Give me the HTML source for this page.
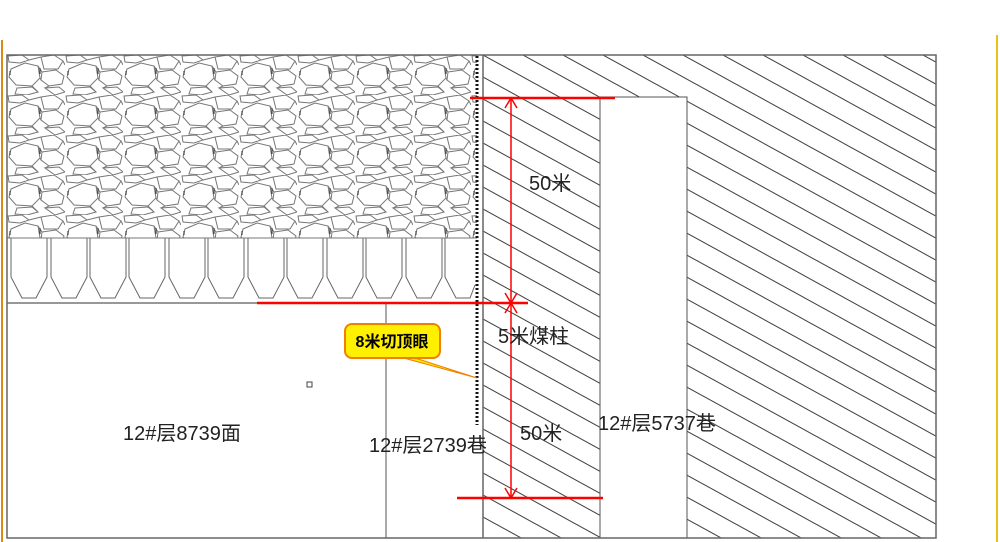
<!DOCTYPE html>
<html><head><meta charset="utf-8"><style>
html,body{margin:0;padding:0;background:#fff;width:1000px;height:542px;overflow:hidden}
text{font-family:"Liberation Sans","Noto Sans CJK SC",sans-serif}
</style></head><body>
<svg width="1000" height="542" viewBox="0 0 1000 542" xmlns="http://www.w3.org/2000/svg">
<defs>
<pattern id="rock" x="7" y="55" width="58" height="40" patternUnits="userSpaceOnUse">
<rect width="58" height="40" fill="#fff"/>
<g fill="none" stroke="#777" stroke-width="1">
<polygon points="4,14 18,8 31,11 33,23 25,31 9,30 2,22"/>
<polygon points="34,2 47,0 56,6 51,14 37,14"/>
<polygon points="1,1 15,0 22,5 13,8 2,7"/>
<polygon points="35,17 49,15 57,21 55,29 42,31 34,25"/>
<polygon points="10,33 25,32 31,37 20,40 8,39"/>
<polygon points="38,33 52,32 58,37 48,40"/>
<line x1="31" y1="11" x2="35" y2="17"/><line x1="33" y1="23" x2="34" y2="25"/>
<line x1="22" y1="5" x2="34" y2="2"/><line x1="56" y1="6" x2="58" y2="10"/>
<line x1="25" y1="31" x2="31" y2="37"/><line x1="42" y1="31" x2="38" y2="33"/>
</g>
<g stroke="#222" stroke-width="1"><line x1="33" y1="13" x2="33" y2="19"/><line x1="3" y1="16" x2="3" y2="20"/></g>
</pattern>
<pattern id="hatch" x="483" y="55" width="40" height="22" patternUnits="userSpaceOnUse">
<line x1="0" y1="0" x2="40" y2="22" stroke="#444" stroke-width="1"/>
<line x1="-40" y1="0" x2="0" y2="22" stroke="#444" stroke-width="1"/>
<line x1="0" y1="-22" x2="40" y2="0" stroke="#444" stroke-width="1"/>
<line x1="0" y1="22" x2="40" y2="44" stroke="#444" stroke-width="1"/>
</pattern>
</defs>
<line x1="2" y1="40" x2="2" y2="542" stroke="#d98a1a" stroke-width="2"/>
<line x1="997" y1="35" x2="997" y2="542" stroke="#e8c21a" stroke-width="2"/>
<rect x="7" y="55" width="470" height="183" fill="url(#rock)"/>
<rect x="483" y="55" width="453" height="483" fill="url(#hatch)"/>
<rect x="600" y="97" width="87" height="441" fill="#fff" stroke="#555" stroke-width="1"/>
<g fill="none" stroke="#666" stroke-width="1">
<path d="M11,238 V277 L22,298 H36 L47,277 V238"/>
<path d="M51,238 V277 L62,298 H76 L87,277 V238"/>
<path d="M90,238 V277 L101,298 H115 L126,277 V238"/>
<path d="M129,238 V277 L140,298 H154 L165,277 V238"/>
<path d="M169,238 V277 L180,298 H194 L205,277 V238"/>
<path d="M208,238 V277 L219,298 H233 L244,277 V238"/>
<path d="M248,238 V277 L259,298 H273 L284,277 V238"/>
<path d="M287,238 V277 L298,298 H312 L323,277 V238"/>
<path d="M327,238 V277 L338,298 H352 L363,277 V238"/>
<path d="M366,238 V277 L377,298 H391 L402,277 V238"/>
<path d="M406,238 V277 L417,298 H431 L442,277 V238"/>
<path d="M445,238 V277 L456,298 H470 L475,285"/>
</g>
<line x1="7" y1="238" x2="477" y2="238" stroke="#777"/>
<line x1="7" y1="303" x2="477" y2="303" stroke="#777" stroke-width="1.5"/>
<rect x="7" y="55" width="929" height="483" fill="none" stroke="#666" stroke-width="1.5"/>
<line x1="483" y1="55" x2="483" y2="538" stroke="#666" stroke-width="1.5"/>
<line x1="386" y1="303" x2="386" y2="538" stroke="#555"/>
<line x1="477" y1="56" x2="477" y2="425" stroke="#111" stroke-width="3" stroke-dasharray="2,2"/>
<rect x="307" y="382" width="5" height="5" fill="none" stroke="#444"/>
<g stroke="#f00" stroke-width="2.5">
<line x1="470" y1="98" x2="615" y2="98"/>
<line x1="257" y1="303" x2="528" y2="303"/>
<line x1="457" y1="498" x2="603" y2="498"/>
</g>
<g stroke="#f00" stroke-width="1.5" fill="none">
<line x1="511" y1="98" x2="511" y2="498"/>
<path d="M505,108 L511,98 L517,108"/>
<path d="M505,293 L511,303 L517,293"/>
<path d="M505,313 L511,303 L517,313"/>
<path d="M505,488 L511,498 L517,488"/>
</g>
<path d="M400,357 L477,378 L412,357 Z" fill="#ffe800" stroke="#f08000" stroke-width="1"/>
<rect x="345" y="324" width="95" height="34" rx="7" fill="#ffef00" stroke="#f08000" stroke-width="2"/>
<text x="392" y="347" font-size="16" font-weight="bold" text-anchor="middle" fill="#000">8米切顶眼</text>
<g font-size="20" fill="#222">
<text x="529" y="190">50米</text>
<text x="498" y="343">5米煤柱</text>
<text x="520" y="440">50米</text>
<text x="598" y="430">12#层5737巷</text>
<text x="369" y="452">12#层2739巷</text>
<text x="123" y="440">12#层8739面</text>
</g>
</svg>
</body></html>
